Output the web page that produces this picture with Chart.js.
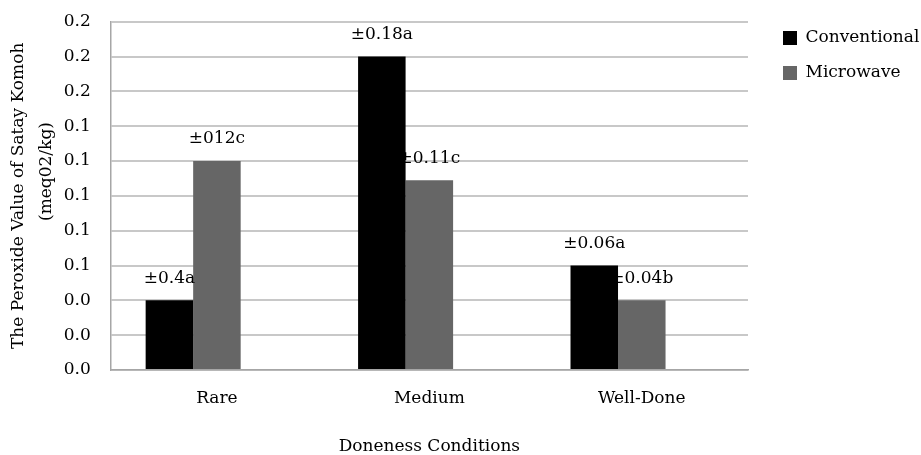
<!DOCTYPE html>
<html>
<head>
<meta charset="utf-8">
<script src="https://cdn.jsdelivr.net/npm/chart.js@4/dist/chart.umd.min.js"></script>
<style>
  html, body { margin: 0; padding: 0; background: #ffffff; }
  #wrap { width: 921px; height: 455px; position: relative; }
</style>
</head>
<body>
<div id="wrap"><canvas id="c"></canvas></div>
<script>
const categories = ['Rare', 'Medium', 'Well-Done'];
const conventional = [0.04, 0.18, 0.06];
const microwave = [0.12, 0.109, 0.04];
const conventionalLabels = ['±0.4a', '±0.18a', '±0.06a'];
const microwaveLabels = ['±012c', '±0.11c', '±0.04b'];
const yTickLabels = ['0.0', '0.0', '0.0', '0.1', '0.1', '0.1', '0.1', '0.1', '0.2', '0.2', '0.2'];
const seriesNames = ['Conventional', 'Microwave'];
const yTitleLines = ['The Peroxide Value of Satay Komoh', '         (meq02/kg)'];

Chart.defaults.font.family = "'DejaVu Serif', serif";
Chart.defaults.font.size = 17;
Chart.defaults.color = '#000000';

const barLabels = {
  id: 'barLabels',
  afterDatasetsDraw(chart) {
    const ctx = chart.ctx;
    const sets = [conventionalLabels, microwaveLabels];
    ctx.save();
    ctx.font = "17px 'DejaVu Serif', serif";
    ctx.fillStyle = '#000000';
    ctx.textAlign = 'center';
    ctx.textBaseline = 'middle';
    sets.forEach((labels, di) => {
      const meta = chart.getDatasetMeta(di);
      meta.data.forEach((bar, i) => {
        ctx.fillText(labels[i], bar.x, bar.y - 22);
      });
    });
    ctx.restore();
  }
};

new Chart(document.getElementById('c'), {
  type: 'bar',
  data: {
    labels: categories,
    datasets: [
      { label: seriesNames[0], data: conventional, backgroundColor: '#000000', borderWidth: 0 },
      { label: seriesNames[1], data: microwave, backgroundColor: '#666666', borderWidth: 0 },
      { label: '', data: [null, null, null], backgroundColor: 'rgba(0,0,0,0)', borderWidth: 0 }
    ]
  },
  options: {
    responsive: true,
    maintainAspectRatio: false,
    animation: false,
    layout: { padding: { top: 11.5, right: 0, bottom: 0, left: 0 } },
    datasets: { bar: { categoryPercentage: 0.671, barPercentage: 1.0 } },
    plugins: {
      tooltip: { enabled: false },
      legend: {
        position: 'right',
        align: 'start',
        maxWidth: 156,
        labels: {
          boxWidth: 14,
          boxHeight: 14,
          padding: 18,
          color: '#000000',
          font: { size: 17, family: "'DejaVu Serif', serif" },
          filter: (item) => item.datasetIndex < 2
        }
      }
    },
    scales: {
      x: {
        grid: { display: false, drawTicks: false },
        border: { display: true, color: '#a6a6a6', width: 1.5 },
        ticks: { padding: 18, color: '#000000', font: { size: 17 } },
        title: {
          display: true,
          text: 'Doneness Conditions',
          color: '#000000',
          font: { size: 17 },
          padding: { top: 0, bottom: -2 }
        },
        afterFit: (s) => { s.height = 85; }
      },
      y: {
        min: 0,
        max: 0.2,
        ticks: {
          stepSize: 0.02,
          padding: 11.5,
          color: '#000000',
          font: { size: 17 },
          callback: (v, i) => yTickLabels[i]
        },
        grid: { color: '#c8c8c8', lineWidth: 2, drawTicks: true, tickLength: 8.5, tickColor: 'rgba(0,0,0,0)' },
        border: { display: true, color: '#a6a6a6', width: 1.5 },
        title: {
          display: true,
          text: yTitleLines,
          color: '#000000',
          font: { size: 17, lineHeight: 1.65 },
          padding: { top: 5, bottom: 0 }
        },
        afterFit: (s) => { s.width = 110.7; }
      },
      y2: {
        position: 'right',
        display: true,
        grid: { display: false, drawTicks: false },
        border: { display: false },
        ticks: { display: false },
        afterFit: (s) => { s.width = 17; }
      }
    }
  },
  plugins: [barLabels]
});
</script>
</body>
</html>
